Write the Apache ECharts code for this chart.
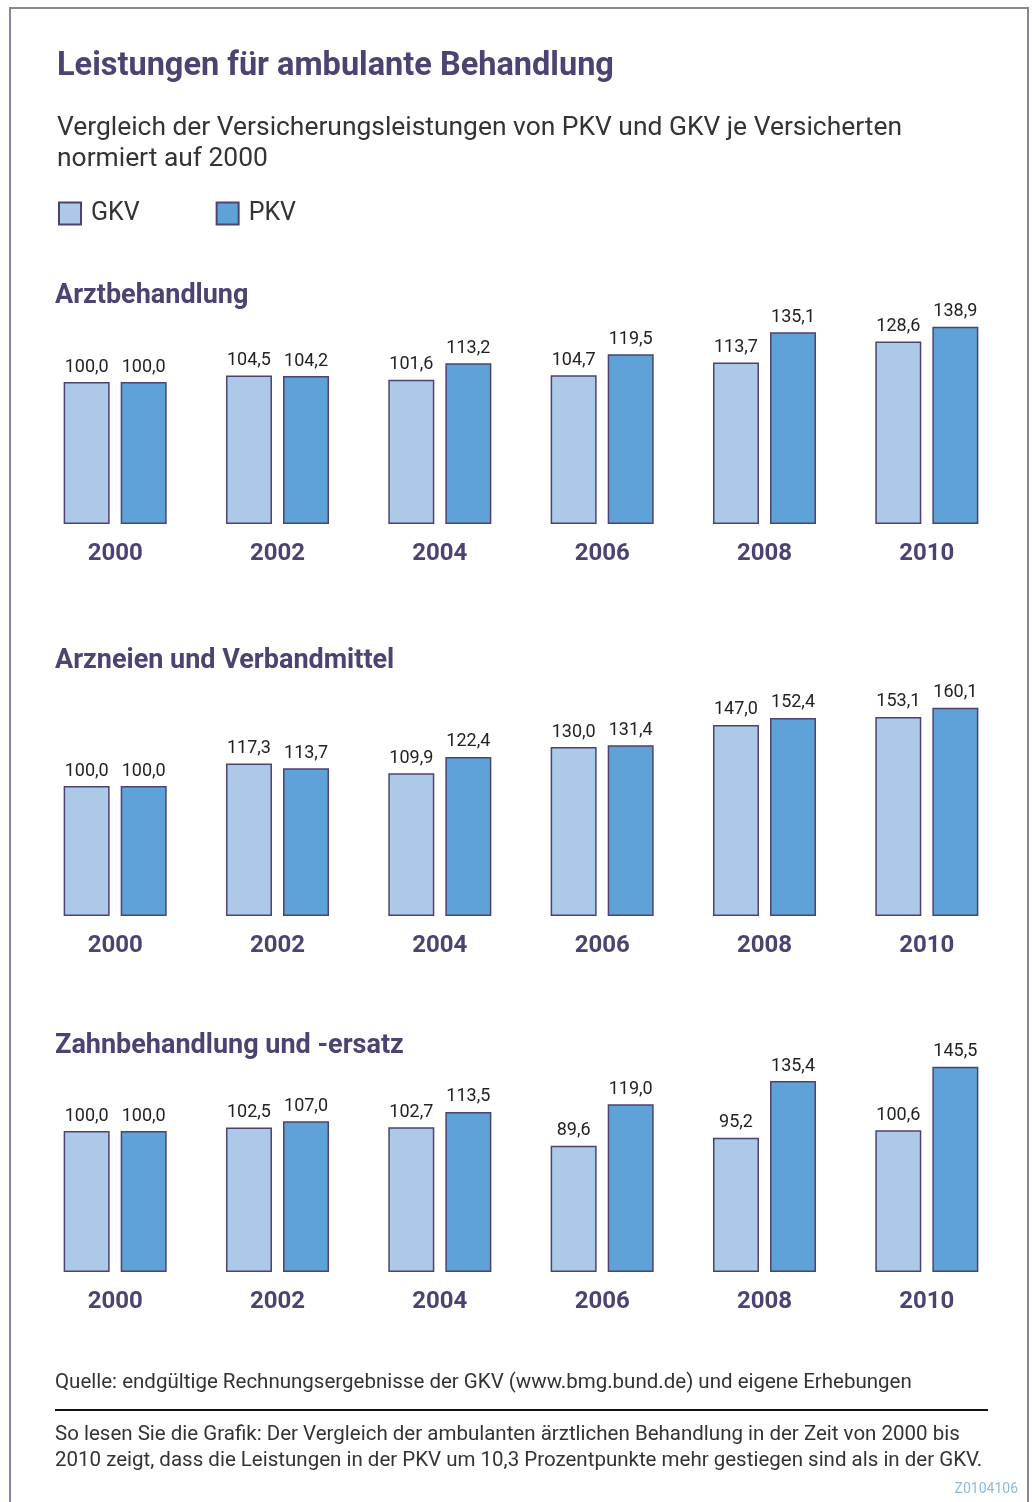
<!DOCTYPE html>
<html>
<head>
<meta charset="utf-8">
<title>Leistungen für ambulante Behandlung</title>
<script src="https://cdn.jsdelivr.net/npm/echarts@6/dist/echarts.min.js"></script>
<style>
  html, body { margin: 0; padding: 0; background: #fff; }
  #chart { width: 1032px; height: 1502px; }
</style>
</head>
<body>
<div id="chart"></div>
<script>
// data
var years = ['2000', '2002', '2004', '2006', '2008', '2010'];
var panelTitles = ['Arztbehandlung', 'Arzneien und Verbandmittel', 'Zahnbehandlung und -ersatz'];
var arztGKV = [100.0, 104.5, 101.6, 104.7, 113.7, 128.6];
var arztPKV = [100.0, 104.2, 113.2, 119.5, 135.1, 138.9];
var arzneiGKV = [100.0, 117.3, 109.9, 130.0, 147.0, 153.1];
var arzneiPKV = [100.0, 113.7, 122.4, 131.4, 152.4, 160.1];
var zahnGKV = [100.0, 102.5, 102.7, 89.6, 95.2, 100.6];
var zahnPKV = [100.0, 107.0, 113.5, 119.0, 135.4, 145.5];

var PURPLE = '#4d4272';
var GKV_COLOR = '#adc9e8';
var PKV_COLOR = '#5fa2d7';
var FONT = 'Roboto, "Noto Sans", sans-serif';

var chart = echarts.init(document.getElementById('chart'), null, { renderer: 'canvas' });

// each panel: baseline y, max of y axis, px per unit
var panels = [
  { gkv: arztGKV, pkv: arztPKV, base: 524, max: 150, scale: 1.42 },
  { gkv: arzneiGKV, pkv: arzneiPKV, base: 916, max: 170, scale: 1.30 },
  { gkv: zahnGKV, pkv: zahnPKV, base: 1272, max: 150, scale: 1.41 }
];

var grids = [], xAxes = [], yAxes = [], series = [];

function fmt(p) {
  return p.value.toFixed(1).replace('.', ',');
}

panels.forEach(function (p, i) {
  var h = p.max * p.scale;
  grids.push({ left: 34, right: 24, top: p.base - h, height: h });
  xAxes.push({
    type: 'category',
    gridIndex: i,
    data: years,
    axisLine: { show: false },
    axisTick: { show: false },
    axisLabel: {
      margin: 18,
      fontSize: 24,
      fontWeight: 'bold',
      fontFamily: FONT,
      color: PURPLE
    }
  });
  yAxes.push({
    type: 'value',
    gridIndex: i,
    min: 0,
    max: p.max,
    show: false,
    splitLine: { show: false }
  });
  [['GKV', p.gkv, GKV_COLOR], ['PKV', p.pkv, PKV_COLOR]].forEach(function (s) {
    series.push({
      name: s[0],
      type: 'bar',
      xAxisIndex: i,
      yAxisIndex: i,
      data: s[1],
      barWidth: 46,
      barGap: '24%',
      itemStyle: { color: s[2], borderColor: PURPLE, borderWidth: 1.5 },
      label: {
        show: true,
        position: 'top',
        distance: 6,
        fontSize: 18,
        fontFamily: FONT,
        color: '#222',
        formatter: fmt
      },
      emphasis: { disabled: true },
      silent: true
    });
  });
});

var texts = [
  { x: 57, y: 67, text: 'Leistungen für ambulante Behandlung', size: 32.5, bold: true, color: PURPLE },
  { x: 57, y: 128, text: 'Vergleich der Versicherungsleistungen von PKV und GKV je Versicherten', size: 26.4, color: '#333' },
  { x: 57, y: 159, text: 'normiert auf 2000', size: 26.4, color: '#333' },
  { x: 55, y: 296, text: panelTitles[0], size: 27, bold: true, color: PURPLE },
  { x: 55, y: 661, text: panelTitles[1], size: 27, bold: true, color: PURPLE },
  { x: 55, y: 1046, text: panelTitles[2], size: 27, bold: true, color: PURPLE },
  { x: 55, y: 1383, text: 'Quelle: endgültige Rechnungsergebnisse der GKV (www.bmg.bund.de) und eigene Erhebungen', size: 20.5, color: '#333' },
  { x: 55, y: 1435, text: 'So lesen Sie die Grafik: Der Vergleich der ambulanten ärztlichen Behandlung in der Zeit von 2000 bis', size: 20.5, color: '#333' },
  { x: 55, y: 1461, text: '2010 zeigt, dass die Leistungen in der PKV um 10,3 Prozentpunkte mehr gestiegen sind als in der GKV.', size: 20.5, color: '#333' }
];

var graphic = [
  {
    type: 'rect',
    shape: { x: 10, y: 8, width: 1018, height: 1520 },
    style: { fill: 'none', stroke: '#8a82a2', lineWidth: 2 },
    silent: true
  },
  {
    type: 'line',
    shape: { x1: 55, y1: 1410, x2: 988, y2: 1410 },
    style: { stroke: '#111', lineWidth: 2 },
    silent: true
  },
  {
    type: 'text',
    right: 14,
    top: 1482,
    style: { text: 'Z0104106', fill: '#8fb9e0', font: '14px ' + FONT }
  }
];
texts.forEach(function (t) {
  graphic.push({
    type: 'text',
    x: t.x,
    y: t.y,
    style: {
      text: t.text,
      fill: t.color,
      font: (t.bold ? 'bold ' : '') + t.size + 'px ' + FONT,
      textVerticalAlign: 'middle'
    },
    silent: true
  });
});

chart.setOption({
  animation: false,
  backgroundColor: '#fff',
  legend: {
    left: 58,
    top: 201,
    padding: 0,
    data: ['GKV', 'PKV'],
    icon: 'rect',
    itemWidth: 22,
    itemHeight: 22,
    itemGap: 76,
    textStyle: { fontSize: 25, fontFamily: FONT, color: '#333', padding: [5, 0, 0, 5] },
    selectedMode: false
  },
  grid: grids,
  xAxis: xAxes,
  yAxis: yAxes,
  series: series,
  graphic: graphic
});
</script>
</body>
</html>
